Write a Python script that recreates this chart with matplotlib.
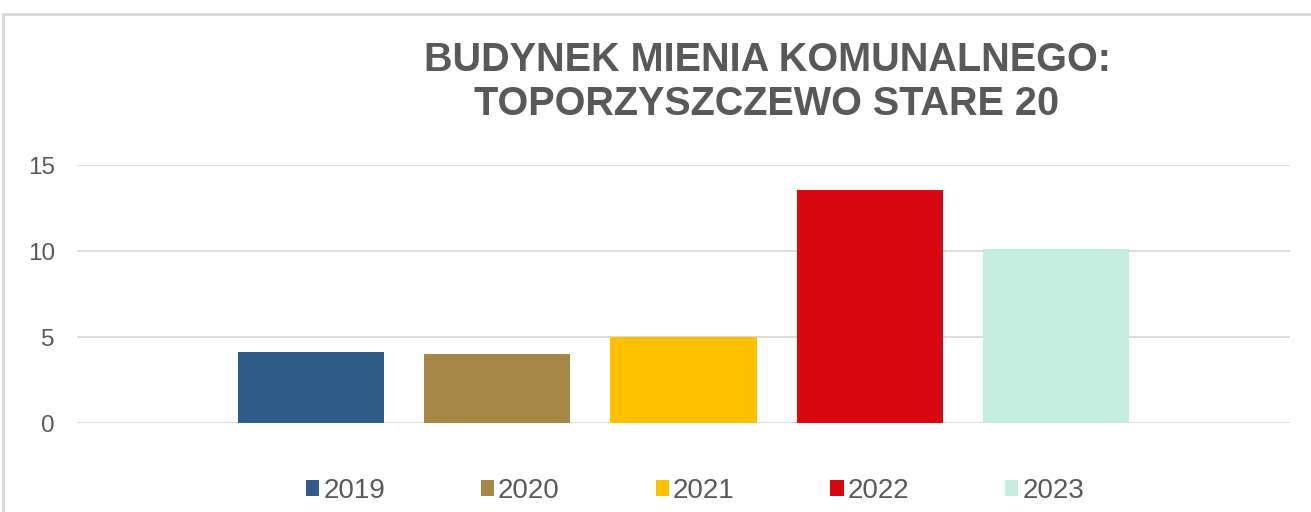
import matplotlib
matplotlib.use('Agg')
import matplotlib.pyplot as plt
from matplotlib.patches import Rectangle

years = ['2019', '2020', '2021', '2022', '2023']
values = [4.1, 4.0, 5.0, 13.55, 10.1]
colors = ['#2e5b87', '#a68645', '#ffc000', '#d9070f', '#c5ede0']
yticks = [0, 5, 10, 15]
title = 'BUDYNEK MIENIA KOMUNALNEGO:\nTOPORZYSZCZEWO STARE 20'

text_color = '#595959'
plt.rcParams['font.family'] = ['Liberation Sans', 'DejaVu Sans']

fig = plt.figure(figsize=(13.11, 5.12), dpi=100)
W, H = 1311, 512

# outer chart frame (light gray), runs off the right and bottom edges
fig.patches.append(Rectangle((3 / W, -0.1), 1.2, 1 - 14 / H + 0.1,
                             transform=fig.transFigure, fill=False,
                             edgecolor='#d9d9d9', linewidth=2))

ax = fig.add_axes([77 / W, (H - 423) / H, (1290 - 77) / W, (423 - 165) / H])

x = list(range(len(years)))
bars = ax.bar(x, values, width=0.785, color=colors, zorder=3)

ax.set_xlim(-1.258, len(years) - 1 + 1.258)
ax.set_ylim(0, 15)
ax.set_yticks(yticks)
ax.set_xticks([])
ax.yaxis.grid(True, color='#d9d9d9', linewidth=1.3, zorder=0)
for side in ax.spines.values():
    side.set_visible(False)
ax.tick_params(axis='y', length=0, pad=16, labelsize=17.5, labelcolor=text_color)

fig.text(767 / W, 1 - 82 / H, title, ha='center', va='center',
         fontsize=28.5, fontweight='bold', color=text_color, linespacing=1.2)

fig.legend(bars, years, loc='center', bbox_to_anchor=(695 / W, 1 - 491 / H),
           ncol=5, frameon=False, fontsize=20, labelcolor=text_color,
           handlelength=0.47, handleheight=0.47, handletextpad=0.15,
           columnspacing=3.45, borderpad=0, borderaxespad=0)

fig.savefig('out.png', dpi=100)
